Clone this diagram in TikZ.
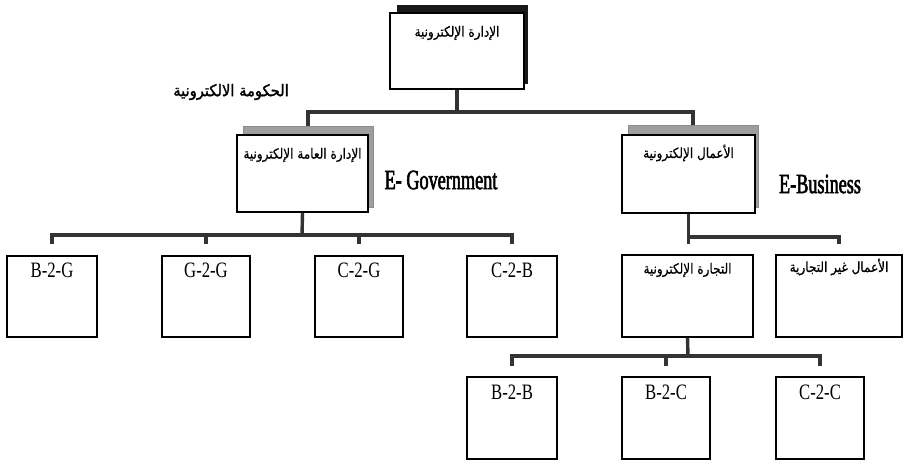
\documentclass[tikz,border=0pt]{standalone}
\usepackage{fontspec}
\setmainfont{Liberation Serif}
\newfontfamily\arabicfont[Script=Arabic,FakeStretch=0.86,FakeBold=0.6]{DejaVu Sans}
\newfontfamily\arabicbold[Script=Arabic,FakeStretch=0.92,FakeBold=1.6]{DejaVu Sans}
\newfontfamily\narrowserif[FakeStretch=0.76]{Liberation Serif}
\newfontfamily\condserif[FakeStretch=0.65,FakeBold=2]{Liberation Serif}
\TeXXeTstate=1
\begin{document}
\begin{tikzpicture}[x=1pt,y=-1pt,
  box/.style={draw=black, line width=1.3pt, fill=white, inner sep=0pt},
  darkshadow/.style={fill=black!90, draw=black!90, inner sep=0pt},
  greyshadow/.style={fill=black!38, draw=black!45, inner sep=0pt},
  link/.style={draw=black!80, line width=3.4pt},
  ar/.style={font=\arabicfont\fontsize{14}{16}\selectfont, inner sep=0pt},
  arbold/.style={font=\arabicbold\fontsize{16}{18}\selectfont, inner sep=0pt},
  code/.style={font=\narrowserif\fontsize{22}{24}\selectfont, inner sep=0pt},
  sector/.style={font=\condserif\fontsize{28}{30}\selectfont, inner sep=0pt}]
\useasboundingbox (0,0) rectangle (904,465);

% root: electronic management
\node[darkshadow, minimum width=130, minimum height=78] (rootsh) at (462,44) {};
\node[box, minimum width=134, minimum height=76] (root) at (457,51) {};
\node[ar] (roott) at (457,33) {\beginR الإدارة الإلكترونية\endR};

% e-government branch
\node[arbold] (govlabel) at (231,92) {\beginR الحكومة الالكترونية\endR};
\node[greyshadow, minimum width=130, minimum height=81] (govsh) at (308,166.5) {};
\node[box, minimum width=131, minimum height=77] (gov) at (302.5,173.5) {};
\node[ar] (govt) at (302.5,155) {\beginR الإدارة العامة الإلكترونية\endR};
\node[sector] (govname) at (441,180) {E- Government};

% e-business branch
\node[greyshadow, minimum width=130, minimum height=82] (bizsh) at (693,166) {};
\node[box, minimum width=133, minimum height=78] (biz) at (688.5,174) {};
\node[ar] (bizt) at (688.5,153) {\beginR الأعمال الإلكترونية\endR};
\node[sector] (bizname) at (820,184) {E-Business};

% government relations
\node[box, minimum width=90, minimum height=81] (b2g) at (52,296.5) {};
\node[box, minimum width=88, minimum height=81] (g2g) at (206,296.5) {};
\node[box, minimum width=88, minimum height=81] (c2g) at (359,296.5) {};
\node[box, minimum width=90, minimum height=81] (c2b) at (512,296.5) {};
\node[code] (b2gt) at (52,270.5) {B-2-G};
\node[code] (g2gt) at (206,270.5) {G-2-G};
\node[code] (c2gt) at (359,270.5) {C-2-G};
\node[code] (c2bt) at (512,270.5) {C-2-B};

% business sub-branches
\node[box, minimum width=131, minimum height=82] (ecom) at (687.5,296) {};
\node[ar] (ecomt) at (687.5,270) {\beginR التجارة الإلكترونية\endR};
\node[box, minimum width=126, minimum height=82] (noncom) at (839,296) {};
\node[ar] (noncomt) at (839,267) {\beginR الأعمال غير التجارية\endR};

% e-commerce relations
\node[box, minimum width=90, minimum height=82] (b2b) at (512,418) {};
\node[box, minimum width=88, minimum height=82] (b2c) at (666,418) {};
\node[box, minimum width=88, minimum height=82] (c2c) at (820,418) {};
\node[code] (b2bt) at (512,392) {B-2-B};
\node[code] (b2ct) at (666,392) {B-2-C};
\node[code] (c2ct) at (820,392) {C-2-C};

% bus levels
\coordinate (busA) at (457,112);
\coordinate (busB) at (302,235);
\coordinate (busC) at (688,237);
\coordinate (busD) at (688,356);

% connectors
\draw[link] (root.south) -- (busA);
\draw[link] (govsh.north) -- (govsh.north |- busA) -- (bizsh.north |- busA) -- (bizsh.north);

\draw[link] (gov.south) -- (busB);
\draw[link] ([yshift=11pt]b2g.north) -- (b2g.north |- busB) -- (c2b.north |- busB) -- ([yshift=11pt]c2b.north);
\draw[link] (g2g.north |- busB) -- ([yshift=11pt]g2g.north);
\draw[link] (c2g.north |- busB) -- ([yshift=11pt]c2g.north);

\draw[link] (biz.south) -- ([yshift=10pt]ecom.north -| biz.south);
\draw[link] (busC) -- (noncom.north |- busC) -- ([yshift=10pt]noncom.north);

\draw[link] (ecom.south) -- (busD);
\draw[link] ([yshift=10pt]b2b.north) -- (b2b.north |- busD) -- (c2c.north |- busD) -- ([yshift=10pt]c2c.north);
\draw[link] (b2c.north |- busD) -- ([yshift=10pt]b2c.north);
\end{tikzpicture}
\end{document}
